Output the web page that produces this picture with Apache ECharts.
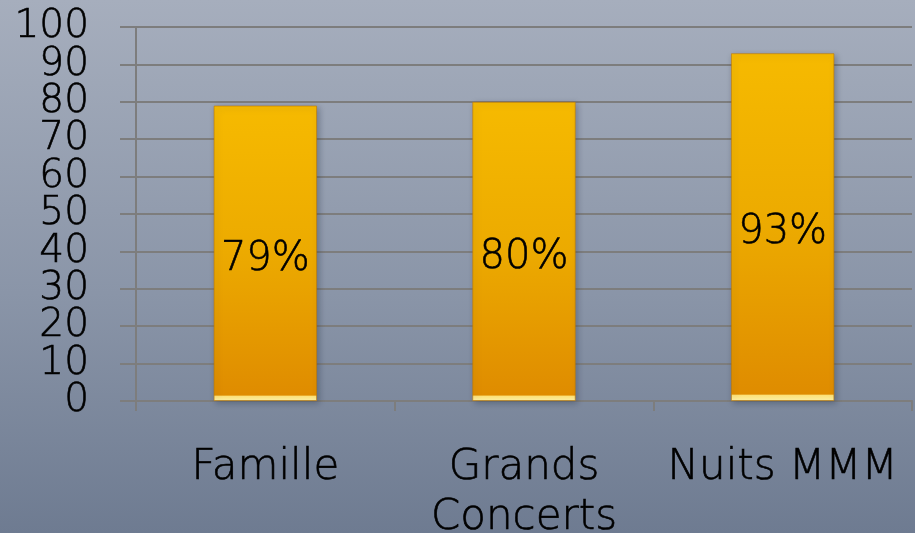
<!DOCTYPE html>
<html>
<head>
<meta charset="utf-8">
<script src="https://cdn.jsdelivr.net/npm/echarts@6/dist/echarts.min.js"></script>
<style>
  html, body { margin: 0; padding: 0; }
  #chart {
    width: 915px; height: 533px;
    background: linear-gradient(to bottom, #a6aebd 0%, #8a95a8 55%, #6e7b91 100%);
  }
</style>
</head>
<body>
<div id="chart"></div>
<script>
// Categories (multi-line names), values (percent) and y-axis ticks
const categories = ['Famille', 'Grands\nConcerts', 'Nuits MMM'];
const values = [79, 80, 93];
const yTickLabels = ['0', '10', '20', '30', '40', '50', '60', '70', '80', '90', '100'];
const yMin = 0;
const yMax = 100;
const yStep = 10;

const chart = echarts.init(document.getElementById('chart'), null, { renderer: 'canvas' });
const font = 'DejaVu Sans, Lato, sans-serif';
const weight = 200;
const gridGrey = '#7d7d7d';
// light outline thickens the thin face a little
const ink = { color: '#000', textBorderColor: '#000', textBorderWidth: 0.6 };

chart.setOption({
  backgroundColor: 'transparent',
  animation: false,
  grid: { left: 136, right: 3, top: 27, bottom: 132, containLabel: false, outerBoundsMode: 'none' },
  xAxis: {
    type: 'category',
    data: categories,
    axisLine: { show: true, lineStyle: { color: gridGrey, width: 2 } },
    axisTick: { show: true, length: 10, lineStyle: { color: gridGrey, width: 2 } },
    axisLabel: Object.assign({
      interval: 0,
      margin: 42,
      fontFamily: font,
      fontWeight: weight,
      fontSize: 42,
      lineHeight: 50,
      hideOverlap: false
    }, ink)
  },
  yAxis: [
    {
      // value scale used by the bars; draws the horizontal grid lines
      type: 'value',
      min: yMin,
      max: yMax,
      interval: yStep,
      axisLine: { show: false },
      axisTick: { show: false },
      axisLabel: { show: false },
      splitLine: { show: true, lineStyle: { color: gridGrey, width: 2 } }
    },
    {
      // tick labels + left axis line with outward ticks, every step shown
      type: 'category',
      position: 'left',
      data: yTickLabels,
      boundaryGap: false,
      axisLine: { show: true, lineStyle: { color: gridGrey, width: 2 } },
      axisTick: { show: true, interval: 0, length: 16, lineStyle: { color: gridGrey, width: 2 } },
      splitLine: { show: false },
      axisLabel: Object.assign({
        interval: 0,
        margin: 47,
        fontFamily: font,
        fontWeight: weight,
        fontSize: 39
      }, ink)
    }
  ],
  series: [{
    type: 'bar',
    yAxisIndex: 0,
    data: values,
    barWidth: '40%',
    itemStyle: {
      color: {
        type: 'linear', x: 0, y: 0, x2: 0, y2: 1,
        colorStops: [
          { offset: 0, color: '#f6ba00' },
          { offset: 0.5, color: '#ecaa00' },
          { offset: 0.98, color: '#df8c00' },
          { offset: 0.984, color: '#fde27a' },
          { offset: 1, color: '#fff4a8' }
        ]
      },
      borderColor: 'rgba(190,120,0,0.6)',
      borderWidth: 1,
      shadowColor: 'rgba(40,50,70,0.35)',
      shadowBlur: 6,
      shadowOffsetX: 2,
      shadowOffsetY: 2
    },
    label: Object.assign({
      show: true,
      position: 'inside',
      offset: [0, 6],
      formatter: '{c}%',
      fontFamily: font,
      fontWeight: weight,
      fontSize: 40
    }, ink)
  }]
});
</script>
</body>
</html>
